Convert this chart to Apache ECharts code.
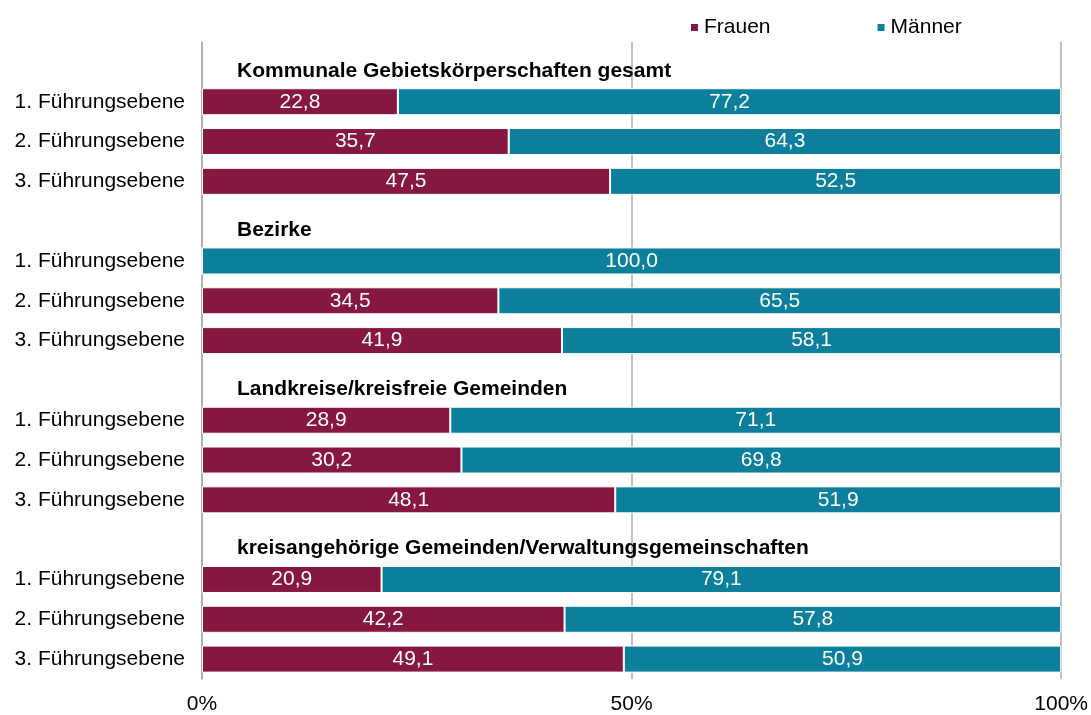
<!DOCTYPE html>
<html>
<head>
<meta charset="utf-8">
<script src="https://cdn.jsdelivr.net/npm/echarts@6/dist/echarts.min.js"></script>
<style>
  html, body { margin: 0; padding: 0; background: #fff; }
  #main { width: 1091px; height: 715px; }
</style>
</head>
<body>
<div id="main"></div>
<script>
// rows top to bottom, '' = group header row
var categories = ['', '1. Führungsebene', '2. Führungsebene', '3. Führungsebene',
                  '', '1. Führungsebene', '2. Führungsebene', '3. Führungsebene',
                  '', '1. Führungsebene', '2. Führungsebene', '3. Führungsebene',
                  '', '1. Führungsebene', '2. Führungsebene', '3. Führungsebene'];
var groupTitles = ['Kommunale Gebietskörperschaften gesamt', 'Bezirke',
                   'Landkreise/kreisfreie Gemeinden',
                   'kreisangehörige Gemeinden/Verwaltungsgemeinschaften'];
var frauen  = [null, 22.8, 35.7, 47.5, null, 0, 34.5, 41.9, null, 28.9, 30.2, 48.1, null, 20.9, 42.2, 49.1];
var maenner = [null, 77.2, 64.3, 52.5, null, 100, 65.5, 58.1, null, 71.1, 69.8, 51.9, null, 79.1, 57.8, 50.9];
var xTicks = [0, 50, 100];

var font = 'Liberation Sans, Arial, sans-serif';
var fs = 21;

// header rows get a zero bar that only carries the title label
var headerData = [];
var g = 0;
for (var i = 0; i < categories.length; i++) {
  if (categories[i] === '') {
    headerData.push({ value: 0, title: groupTitles[g] });
    g++;
  } else {
    headerData.push(null);
  }
}

function fmt(p) {
  if (p.value === null || p.value === 0) return '';
  return p.value.toFixed(1).replace('.', ',');
}

var myChart = echarts.init(document.getElementById('main'));
var option = {
  animation: false,
  textStyle: { fontFamily: font },
  legend: {
    data: ['Frauen', 'Männer'],
    left: 684,
    top: 12,
    itemWidth: 9,
    itemHeight: 9,
    itemGap: 105,
    icon: 'rect',
    textStyle: { fontSize: fs, color: '#000', fontFamily: font }
  },
  grid: { left: 202, right: 29, top: 42, bottom: 33 },
  xAxis: {
    type: 'value',
    min: xTicks[0],
    max: xTicks[xTicks.length - 1],
    interval: 50,
    axisLine: { show: false },
    axisTick: { show: false },
    axisLabel: { formatter: '{value}%', fontSize: fs, color: '#000', margin: 15, fontFamily: font },
    splitLine: { show: true, lineStyle: { color: '#ababab', width: 1.5 } }
  },
  yAxis: {
    type: 'category',
    data: categories,
    inverse: true,
    axisLine: { show: true, lineStyle: { color: '#ababab', width: 1.5 } },
    axisTick: { show: false },
    axisLabel: { fontSize: fs, color: '#000', margin: 17, fontFamily: font }
  },
  series: [
    {
      name: 'Frauen',
      type: 'bar',
      stack: 'a',
      barWidth: 27,
      barGap: '-100%',
      data: frauen,
      itemStyle: { color: '#861742', borderColor: '#fff', borderWidth: 1 },
      label: { show: true, position: 'inside', color: '#fff', fontSize: fs, fontFamily: font, formatter: fmt }
    },
    {
      name: 'Männer',
      type: 'bar',
      stack: 'a',
      barWidth: 27,
      barGap: '-100%',
      data: maenner,
      itemStyle: { color: '#0b7f9c', borderColor: '#fff', borderWidth: 1 },
      label: { show: true, position: 'inside', color: '#fff', fontSize: fs, fontFamily: font, formatter: fmt }
    },
    {
      name: 'Titel',
      type: 'bar',
      barWidth: 27,
      barGap: '-100%',
      silent: true,
      data: headerData,
      itemStyle: { color: 'transparent' },
      label: {
        show: true,
        position: [35, 12],
        color: '#000',
        fontSize: fs,
        fontWeight: 'bold',
        fontFamily: font,
        formatter: function (p) { return p.data ? p.data.title : ''; }
      }
    }
  ]
};
myChart.setOption(option);
</script>
</body>
</html>
